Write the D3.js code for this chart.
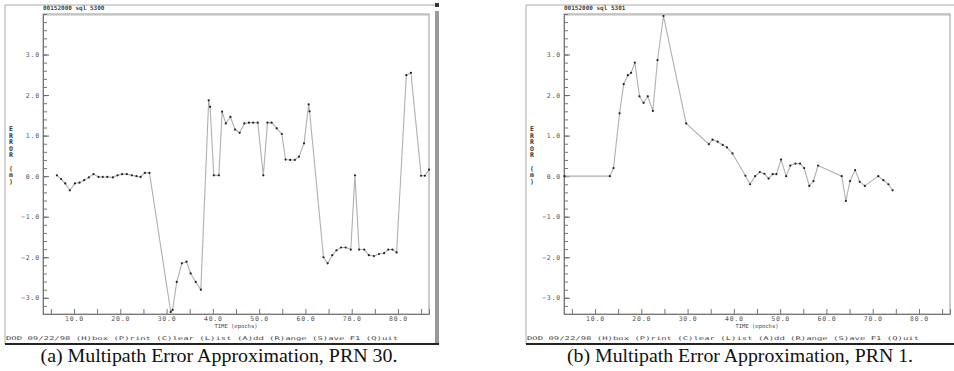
<!DOCTYPE html>
<html>
<head>
<meta charset="utf-8">
<script src="https://cdn.jsdelivr.net/npm/d3@7"></script>
<style>
  body { margin: 0; background: #fff; }
  svg { display: block; }
  .tick text { font-family: 'DejaVu Sans Mono', monospace; font-size: 6.5px; fill: #555; letter-spacing: 0.8px; }
  .small { font-family: 'DejaVu Sans Mono', monospace; fill: #444; }
  .caption { font-family: 'Liberation Serif', 'Times New Roman', serif; font-size: 19px; fill: #111; }
</style>
</head>
<body>
<svg id="chart" width="954" height="371"></svg>
<script>
// panel (a) PRN 30
const aTime = [6.3, 7.2, 8.1, 9.1, 10.2, 11.2, 12.2, 13.2, 14.2, 15.3, 16.2, 17.2, 18.4, 19.4, 20.4,
  21.4, 22.5, 23.5, 24.4, 25.3, 26.3, 30.9, 31.3, 32.2, 33.3, 34.3, 35.2, 36.3, 37.4, 39.1,
  39.4, 40.2, 41.3, 42.0, 42.8, 43.8, 44.8, 45.8, 46.8, 47.8, 48.7, 49.7, 50.9, 51.8, 52.7,
  53.8, 54.9, 55.7, 56.7, 57.7, 58.6, 59.7, 60.7, 60.9, 63.9, 64.8, 65.8, 66.7, 67.7, 68.7,
  69.8, 70.7, 71.6, 72.7, 73.7, 74.8, 75.9, 77.0, 77.9, 78.8, 79.7, 81.8, 82.8, 85.0, 85.8, 86.7];
const aError = [0.02, -0.07, -0.18, -0.35, -0.18, -0.16, -0.1, -0.03, 0.05, -0.02, -0.02, -0.02, -0.03, 0.02, 0.05,
  0.05, 0.02, 0.0, -0.02, 0.08, 0.08, -3.35, -3.3, -2.61, -2.15, -2.11, -2.4, -2.61, -2.8, 1.87,
  1.71, 0.02, 0.02, 1.59, 1.3, 1.46, 1.15, 1.07, 1.3, 1.32, 1.32, 1.32, 0.02, 1.32, 1.32,
  1.18, 1.04, 0.41, 0.4, 0.4, 0.48, 0.81, 1.77, 1.6, -2.0, -2.15, -1.95, -1.83, -1.76, -1.76,
  -1.81, 0.02, -1.81, -1.81, -1.95, -1.97, -1.92, -1.9, -1.81, -1.81, -1.88, 2.49, 2.55, 0.01, 0.01, 0.16];

// panel (b) PRN 1
const bTime = [3.4, 13.2, 14.0, 15.3, 16.2, 17.1, 17.8, 18.6, 19.6, 20.5, 21.4, 22.5, 23.5, 24.8, 29.7,
  34.6, 35.4, 36.5, 37.6, 38.5, 39.7, 42.5, 43.5, 44.6, 45.6, 46.6, 47.5, 48.4, 49.2, 50.2,
  51.3, 52.2, 53.3, 54.3, 55.2, 56.3, 57.2, 58.2, 63.3, 64.2, 65.1, 66.2, 67.2, 68.3, 71.2,
  72.3, 73.4, 74.3];
const bError = [0.0, 0.0, 0.2, 1.55, 2.27, 2.49, 2.55, 2.8, 1.97, 1.81, 1.97, 1.61, 2.86, 3.95, 1.3,
  0.79, 0.9, 0.85, 0.77, 0.71, 0.56, 0.01, -0.2, 0.0, 0.1, 0.06, -0.06, 0.05, 0.05, 0.41,
  0.0, 0.26, 0.31, 0.31, 0.2, -0.24, -0.12, 0.26, 0.0, -0.61, -0.12, 0.15, -0.14, -0.24, 0.0,
  -0.1, -0.2, -0.35];

const yLabelTicks = [-3, -2, -1, 0, 1, 2, 3];
const xLabelTicks = [10, 20, 30, 40, 50, 60, 70, 80];
const xDomain = [3.3, 86.7];
const yDomain = [-3.4, 4.0];

const svg = d3.select('#chart');

function drawPanel(dx, time, error, header, caption, captionWidth) {
  const g = svg.append('g').attr('transform', `translate(${dx},0)`);
  const left = 43, right = 429, top = 14, bottom = 314;

  const x = d3.scaleLinear().domain(xDomain).range([left, right]);
  const y = d3.scaleLinear().domain(yDomain).range([bottom, top]);

  // outer window frame
  g.append('line').attr('x1', 5).attr('x2', 437).attr('y1', 5).attr('y2', 5).attr('stroke', '#aaa');
  g.append('line').attr('x1', 5).attr('x2', 5).attr('y1', 5).attr('y2', 344).attr('stroke', '#aaa');
  g.append('rect').attr('x', 435).attr('y', 11).attr('width', 4).attr('height', 333).attr('fill', '#999');
  g.append('rect').attr('x', 435).attr('y', 3).attr('width', 4).attr('height', 4).attr('fill', '#333');
  g.append('line').attr('x1', 5).attr('x2', 439).attr('y1', 344).attr('y2', 344).attr('stroke', '#222').attr('stroke-width', 2);

  g.append('text').attr('class', 'small').attr('x', left).attr('y', 10)
    .style('font-size', '6px').style('font-weight', 'bold').text(header);

  // plot box
  g.append('rect').attr('x', left).attr('y', top).attr('width', right - left).attr('height', bottom - top)
    .attr('fill', 'none').attr('stroke', '#999').attr('stroke-width', 1);
  g.append('line').attr('x1', left).attr('x2', right).attr('y1', top + 1).attr('y2', top + 1).attr('stroke', '#bbb');

  // y axis, ticks point inward
  g.append('g').attr('transform', `translate(${left},0)`)
    .call(d3.axisLeft(y).tickValues(d3.range(-34, 41, 2).map(d => d / 10)).tickSize(-4).tickFormat(''))
    .call(a => a.select('.domain').attr('stroke', '#777'))
    .call(a => a.selectAll('.tick line').attr('stroke', '#777'));
  g.append('g').attr('transform', `translate(${left},0)`)
    .call(d3.axisLeft(y).tickValues(yLabelTicks).tickSize(-6).tickPadding(3).tickFormat(d3.format('.1f')))
    .call(a => a.select('.domain').remove())
    .call(a => a.selectAll('.tick line').attr('stroke', '#666'));

  // x axis
  g.append('g').attr('transform', `translate(0,${bottom})`)
    .call(d3.axisBottom(x).tickValues(d3.range(5, 90, 5)).tickSize(-5).tickFormat(''))
    .call(a => a.select('.domain').attr('stroke', '#777'))
    .call(a => a.selectAll('.tick line').attr('stroke', '#777'));
  g.append('g').attr('transform', `translate(0,${bottom})`)
    .call(d3.axisBottom(x).tickValues(xLabelTicks).tickSize(0).tickPadding(2).tickFormat(d3.format('.1f')))
    .call(a => a.select('.domain').remove());

  g.append('text').attr('class', 'small').attr('x', 236).attr('y', 328).attr('text-anchor', 'middle')
    .style('font-size', '5.5px').text('TIME (epochs)');
  g.append('text').attr('class', 'small').attr('x', 6).attr('y', 340)
    .style('font-size', '5px').attr('textLength', 392).attr('lengthAdjust', 'spacingAndGlyphs')
    .text('DOD 09/22/98  (H)box  (P)rint  (C)lear  (L)ist  (A)dd  (R)ange  (S)ave  F1 (Q)uit');

  // stacked y-axis title
  const yTitle = 'ERROR (m)'.split('');
  g.append('g').selectAll('text').data(yTitle).join('text')
    .attr('class', 'small').attr('x', 11).attr('y', (d, i) => 131 + i * 6.6)
    .attr('text-anchor', 'middle').style('font-size', '6.5px').style('font-weight', 'bold')
    .style('fill', '#333').text(d => d);

  const pts = time.map((t, i) => [t, error[i]]);
  g.append('path').datum(pts)
    .attr('d', d3.line().x(d => x(d[0])).y(d => y(d[1])))
    .attr('fill', 'none').attr('stroke', '#b0b0b0').attr('stroke-width', 1.1);
  g.append('g').selectAll('circle').data(pts).join('circle')
    .attr('cx', d => x(d[0])).attr('cy', d => y(d[1])).attr('r', 1.1).attr('fill', '#222');

  g.append('text').attr('class', 'caption').attr('x', 219).attr('y', 362).attr('text-anchor', 'middle')
    .attr('textLength', captionWidth).attr('lengthAdjust', 'spacingAndGlyphs').text(caption);
}

drawPanel(0, aTime, aError, '00152000 sql 5300', '(a)  Multipath Error Approximation, PRN 30.', 357);
drawPanel(521, bTime, bError, '00152000 sql 5301', '(b)  Multipath Error Approximation, PRN 1.', 346);
</script>
</body>
</html>
